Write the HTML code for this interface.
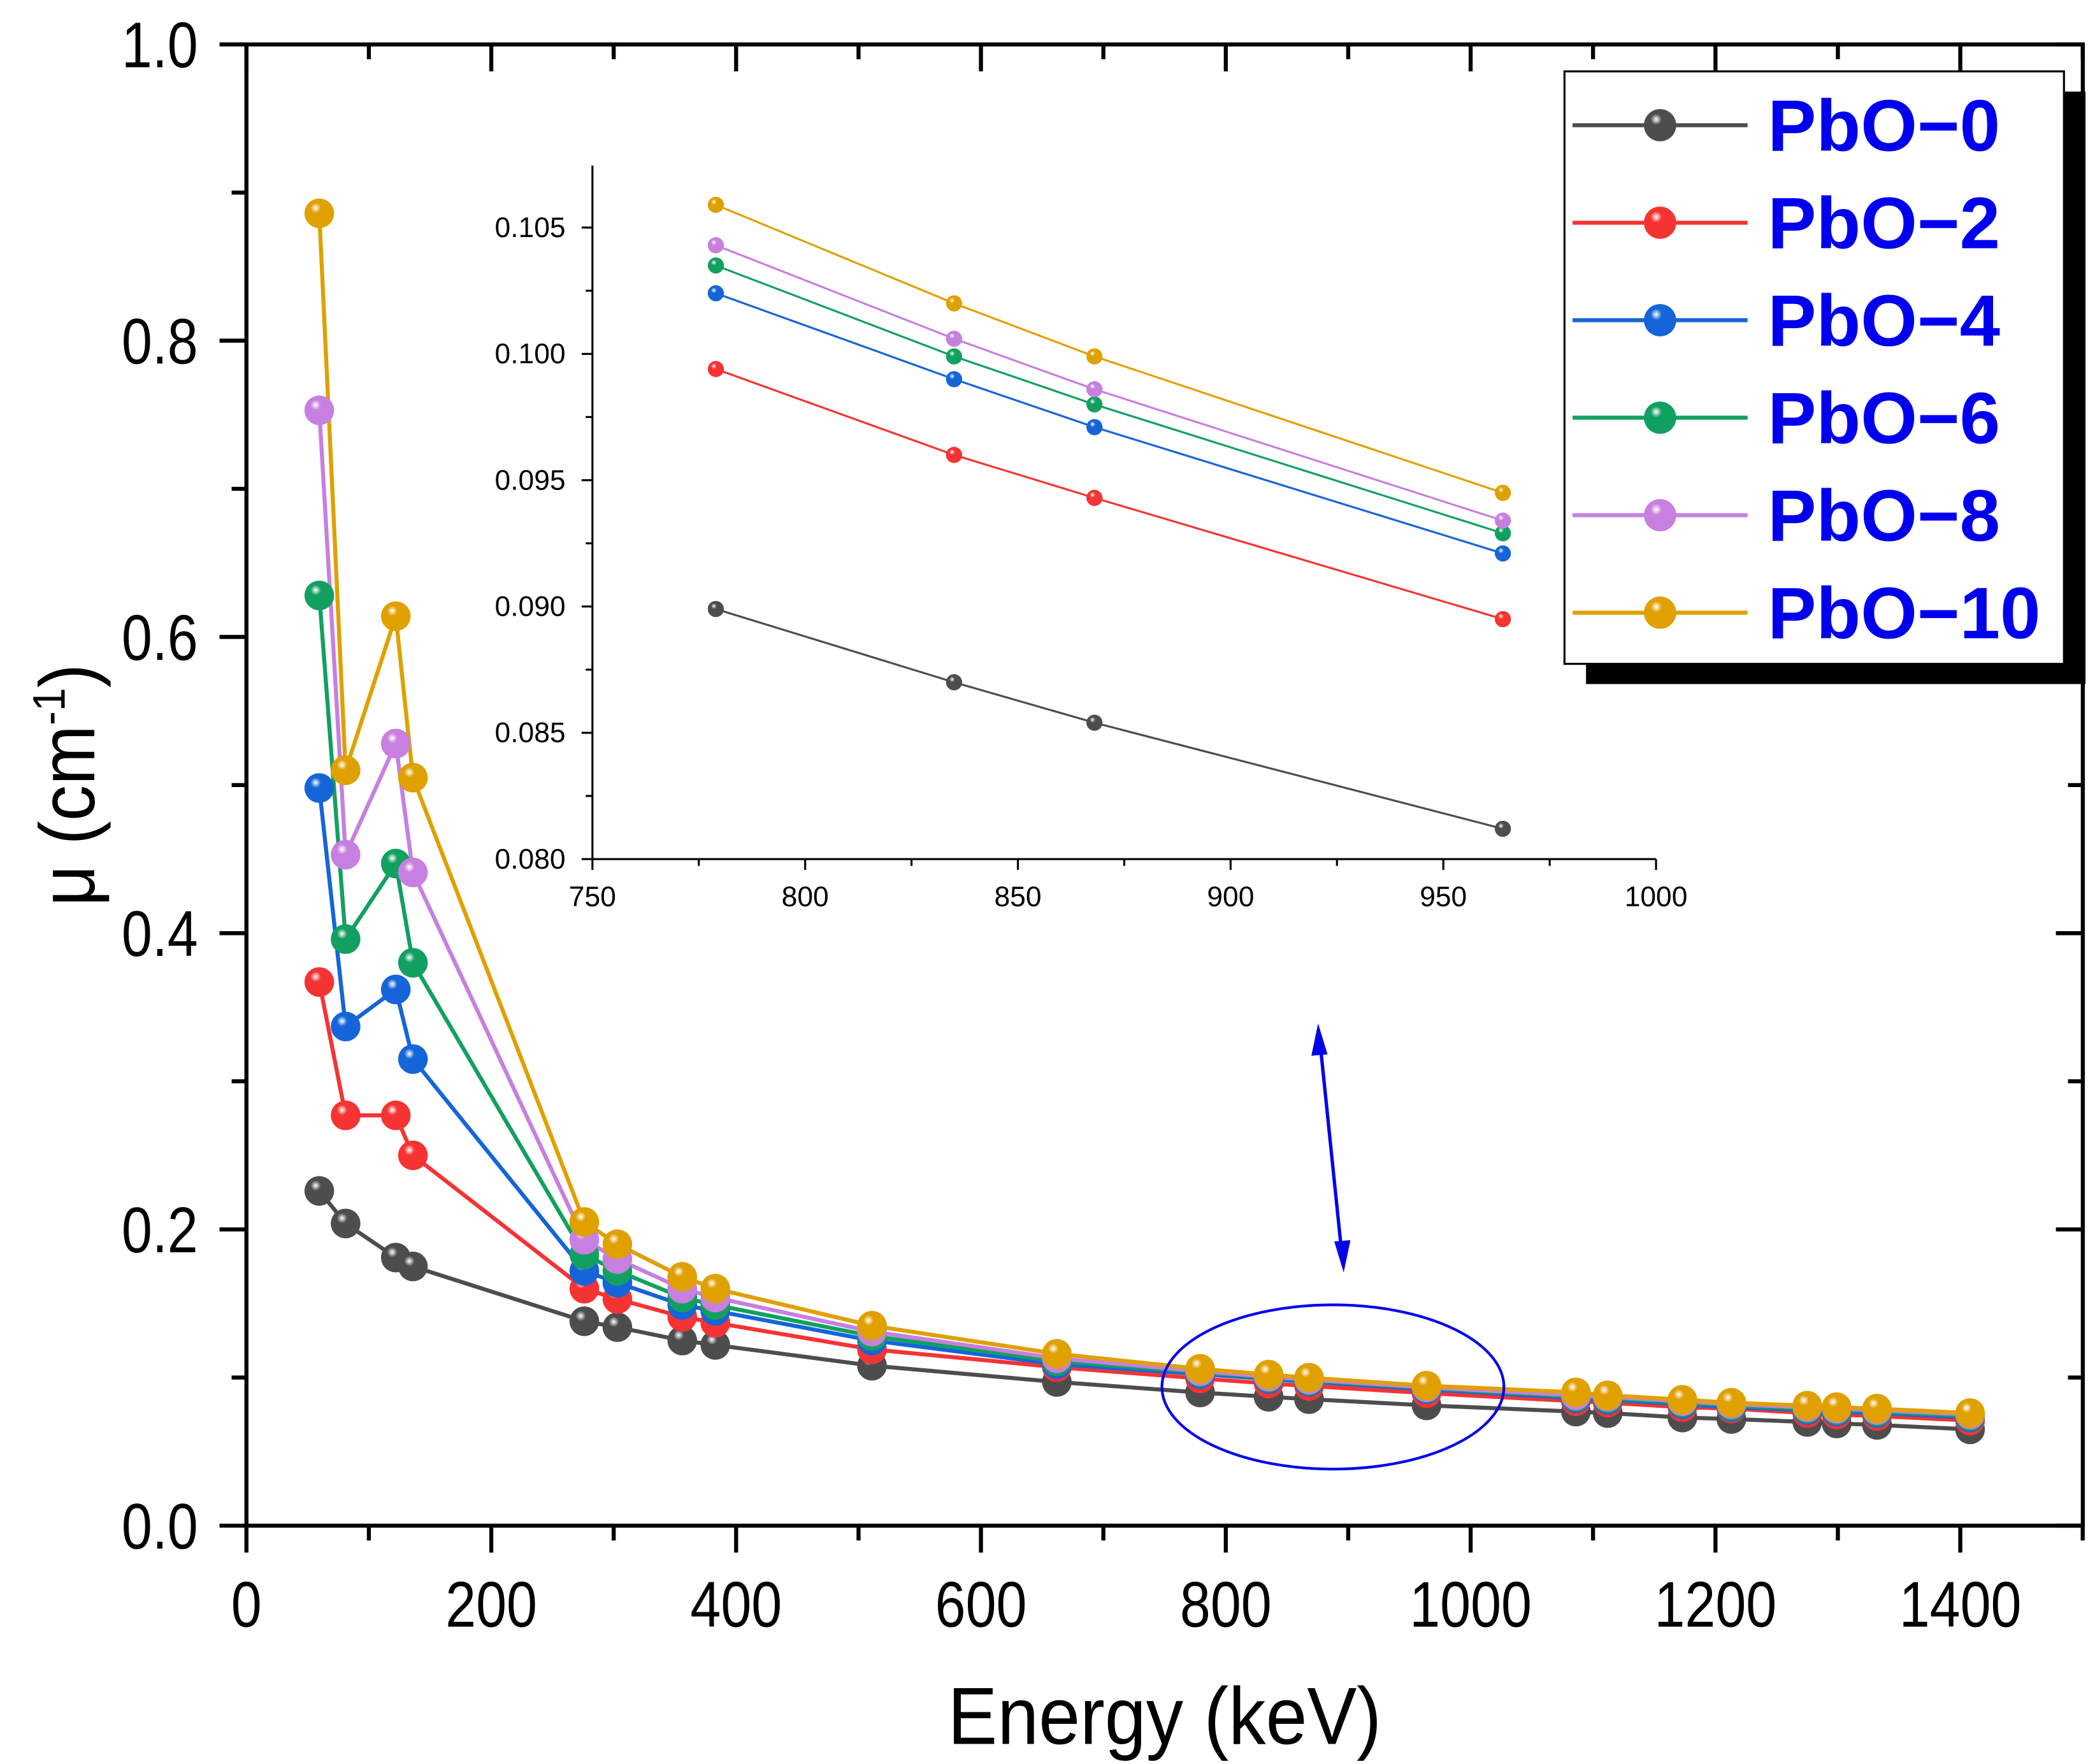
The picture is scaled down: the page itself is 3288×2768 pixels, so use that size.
<!DOCTYPE html>
<html><head><meta charset="utf-8"><style>
html,body{margin:0;padding:0;background:#fff}
svg{display:block}
text{font-family:"Liberation Sans",Arial,sans-serif}
</style></head><body>
<svg id="chart" width="3288" height="2768" viewBox="0 0 1556 1310" xmlns="http://www.w3.org/2000/svg">
<defs id="defs"></defs>
<g id="main"></g>
</svg>
<script>
const energies = [59.5,81,122,136,276,303,356,383,511,662,779,835,868,964,1086,1112,1173,1213,1275,1299,1332,1408];
const seriesNames = ["PbO−0","PbO−2","PbO−4","PbO−6","PbO−8","PbO−10"];
const pbo0 = [0.226,0.204,0.181,0.175,0.138,0.134,0.125,0.122,0.108,0.097,0.0899,0.0870,0.0854,0.0812,0.077,0.076,0.073,0.072,0.070,0.069,0.068,0.065];
const pbo2 = [0.367,0.277,0.277,0.250,0.160,0.153,0.141,0.137,0.119,0.107,0.0994,0.0960,0.0943,0.0895,0.084,0.083,0.080,0.079,0.076,0.075,0.074,0.071];
const pbo4 = [0.498,0.337,0.362,0.315,0.172,0.164,0.149,0.145,0.125,0.109,0.1024,0.0990,0.0971,0.0921,0.086,0.085,0.082,0.080,0.078,0.077,0.076,0.073];
const pbo6 = [0.628,0.396,0.447,0.380,0.183,0.172,0.154,0.149,0.128,0.111,0.1035,0.0999,0.0980,0.0929,0.087,0.086,0.083,0.081,0.079,0.078,0.077,0.074];
const pbo8 = [0.753,0.453,0.528,0.441,0.193,0.180,0.160,0.154,0.131,0.113,0.1043,0.1006,0.0986,0.0934,0.088,0.087,0.084,0.082,0.080,0.079,0.078,0.075];
const pbo10 = [0.886,0.510,0.614,0.505,0.205,0.190,0.168,0.160,0.135,0.116,0.1059,0.1020,0.0999,0.0945,0.090,0.088,0.085,0.083,0.081,0.080,0.079,0.076];
const insetEnergies = [779,835,868,964];
const inset0 = [0.0899,0.0870,0.0854,0.0812];
const inset2 = [0.0994,0.0960,0.0943,0.0895];
const inset4 = [0.1024,0.0990,0.0971,0.0921];
const inset6 = [0.1035,0.0999,0.0980,0.0929];
const inset8 = [0.1043,0.1006,0.0986,0.0934];
const inset10 = [0.1059,0.1020,0.0999,0.0945];
const xTicks = [0,200,400,600,800,1000,1200,1400];
const yTicks = [0.0,0.2,0.4,0.6,0.8,1.0];
const insetXTicks = [750,800,850,900,950,1000];
const insetYTicks = [0.080,0.085,0.090,0.095,0.100,0.105];

const colors = ["#4d4d4d","#f53333","#1565d8","#12a060","#c77fe0","#e0a000"];
const mainSeries = [pbo0,pbo2,pbo4,pbo6,pbo8,pbo10];
const insetSeries = [inset0,inset2,inset4,inset6,inset8,inset10];
const NS="http://www.w3.org/2000/svg";
const root=document.getElementById('main'), defs=document.getElementById('defs');
function mk(tag,attrs,parent){const e=document.createElementNS(NS,tag);for(const k in attrs)e.setAttribute(k,attrs[k]);(parent||root).appendChild(e);return e;}
// narrow text: positioned at (x,y), horizontally compressed
function ntext(x,y,size,anchor,sx,parent){return mk('text',{x:0,y:0,'font-size':size,'text-anchor':anchor,transform:'translate('+x+','+y+') scale('+sx+',1)'},parent);}

colors.forEach((c,i)=>{
  const g=mk('radialGradient',{id:'g'+i,cx:'0.38',cy:'0.32',r:'0.7'},defs);
  mk('stop',{offset:'0','stop-color':'#ffffff'},g);
  mk('stop',{offset:'0.25','stop-color':c},g);
  mk('stop',{offset:'1','stop-color':c},g);
});

const L=183,R=1547,T=33,B=1133;
const X=v=>L+v*(1456-183)/1400;
const Y=v=>B-v*(B-T);

for(let i=0;i<=15;i++){
  const v=i*100, x=X(v), major=i%2===0;
  const t=mk('line',{x1:x,y1:B,x2:x,y2:B+(major?20:11),stroke:'#000','stroke-width':3});
  
  
  mk('line',{x1:x,y1:T,x2:x,y2:T+(major?20:11),stroke:'#000','stroke-width':3});
}
xTicks.forEach(v=>{
  const t=ntext(X(v),B+75,48,'middle',0.85);
  t.textContent=v;
  
  
});
for(let i=0;i<=10;i++){
  const v=i*0.1, y=Y(v), major=i%2===0;
  const t=mk('line',{x1:L,y1:y,x2:L-(major?20:11),y2:y,stroke:'#000','stroke-width':3});
  
  
  mk('line',{x1:R,y1:y,x2:R-(major?20:11),y2:y,stroke:'#000','stroke-width':3});
}
yTicks.forEach(v=>{
  const t=ntext(L-36,Y(v)+17,48,'end',0.85);
  t.textContent=v.toFixed(1);
  
  
});
const frame=mk('rect',{x:L,y:T,width:R-L,height:B-T,fill:'none',stroke:'#000','stroke-width':3});



const xt=ntext(865,1295,60,'middle',0.92);
xt.textContent='Energy (keV)';


const yt=mk('text',{transform:'translate(70,583) rotate(-90) scale(0.92,1)','font-size':58,'text-anchor':'middle'});
yt.innerHTML='μ (cm<tspan font-size="34" dy="-22">-1</tspan><tspan dy="22">)</tspan>';



mainSeries.forEach((s,i)=>{
  const pts=s.map((v,j)=>X(energies[j])+','+Y(v)).join(' ');
  const pl=mk('polyline',{points:pts,fill:'none',stroke:colors[i],'stroke-width':3});
  
  
});
mainSeries.forEach((s,i)=>{
  s.forEach((v,j)=>{
    const c=mk('circle',{cx:X(energies[j]),cy:Y(v),r:11,fill:'url(#g'+i+')'});
    
    
  });
});

const el=mk('ellipse',{cx:990,cy:1030,rx:127,ry:61,fill:'none',stroke:'#0000ee','stroke-width':2});


const ar=mk('g',{});


mk('line',{x1:980,y1:770,x2:997,y2:935,stroke:'#0000ee','stroke-width':2.5},ar);
mk('polygon',{points:'979,760 974,784 986,783',fill:'#0000ee'},ar);
mk('polygon',{points:'998,945 991,922 1003,921',fill:'#0000ee'},ar);

const IL=440,IR=1230,IT=123,IB=638;
const IX=v=>IL+(v-750)*(IR-IL)/250;
const IY=v=>IB-(v-0.080)*18760;
const ig=mk('g',{});


mk('line',{x1:IL,y1:IT,x2:IL,y2:IB,stroke:'#000','stroke-width':1.5},ig);
mk('line',{x1:IL,y1:IB,x2:IR,y2:IB,stroke:'#000','stroke-width':1.5},ig);
for(let i=0;i<=10;i++){
  const v=750+i*25,x=IX(v),major=i%2===0;
  mk('line',{x1:x,y1:IB,x2:x,y2:IB+(major?8:5),stroke:'#000','stroke-width':1.5},ig);
}
insetXTicks.forEach(v=>{
  const t=mk('text',{x:IX(v),y:IB+35,'font-size':21,'text-anchor':'middle'},ig);
  t.textContent=v;
  
  
});
for(let i=0;i<=11;i++){
  const v=0.080+i*0.0025,y=IY(v),major=i%2===0;
  if(y<IT)break;
  mk('line',{x1:IL,y1:y,x2:IL-(major?8:5),y2:y,stroke:'#000','stroke-width':1.5},ig);
}
insetYTicks.forEach(v=>{
  const t=mk('text',{x:IL-20,y:IY(v)+7,'font-size':21,'text-anchor':'end'},ig);
  t.textContent=v.toFixed(3);
  
  
});
insetSeries.forEach((s,i)=>{
  const pts=s.map((v,j)=>IX(insetEnergies[j])+','+IY(v)).join(' ');
  const pl=mk('polyline',{points:pts,fill:'none',stroke:colors[i],'stroke-width':1.5},ig);
  
  
  s.forEach((v,j)=>{
    const c=mk('circle',{cx:IX(insetEnergies[j]),cy:IY(v),r:6,fill:'url(#g'+i+')'},ig);
    
    
  });
});

const lg=mk('g',{});


mk('rect',{x:1178,y:68,width:371,height:440,fill:'#000'},lg);
mk('rect',{x:1162,y:53,width:371,height:440,fill:'#fff',stroke:'#000','stroke-width':1.5},lg);
seriesNames.forEach((n,i)=>{
  const y=93+i*72.4;
  const e=mk('g',{},lg);
  
  
  mk('line',{x1:1168,y1:y,x2:1298,y2:y,stroke:colors[i],'stroke-width':3},e);
  mk('circle',{cx:1233,cy:y,r:12,fill:'url(#g'+i+')'},e);
  const t=mk('text',{x:1313,y:y+19,'font-size':54,'font-weight':'bold',fill:'#0000ee'},e);
  t.textContent=n;
});
</script>
</body></html>
